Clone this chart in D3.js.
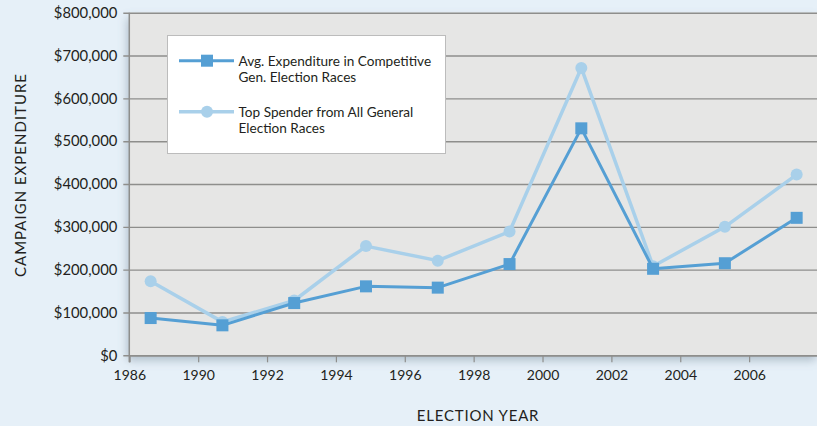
<!DOCTYPE html>
<html>
<head>
<meta charset="utf-8">
<script src="https://cdn.jsdelivr.net/npm/d3@7"></script>
<style>
  html, body { margin: 0; padding: 0; background: #e6f0f8; }
  svg { display: block; }
  text { font-family: Lato, "Open Sans", sans-serif; fill: #231f20; }
</style>
</head>
<body>
<svg id="chart" width="817" height="426"></svg>
<script>
// ---- data ----
const cycles = ["1988", "1990", "1992", "1994", "1996", "1998", "2000", "2002", "2004", "2006"];
const avgExpenditure = [87000, 70000, 122000, 161000, 158000, 213000, 530000, 202000, 215000, 321000];
const topSpender = [173000, 78000, 128000, 255000, 221000, 289000, 671000, 208000, 300000, 422000];
const xTickLabels = ["1986", "1990", "1992", "1994", "1996", "1998", "2000", "2002", "2004", "2006"];
const yTickValues = [0, 100000, 200000, 300000, 400000, 500000, 600000, 700000, 800000];
const seriesNames = ["Avg. Expenditure in Competitive|Gen. Election Races", "Top Spender from All General|Election Races"];

// ---- layout ----
const W = 817, H = 426;
const plot = { left: 129.3, right: 818, top: 12.7, bottom: 355.3 };
const darkBlue = "#559fd4", lightBlue = "#a9d0ea";

const svg = d3.select("#chart");
const defs = svg.append("defs");
const f = defs.append("filter").attr("id", "shadow").attr("x", "-10%").attr("y", "-10%").attr("width", "130%").attr("height", "130%");
f.append("feDropShadow").attr("dx", -2).attr("dy", 5).attr("stdDeviation", 5).attr("flood-color", "#6a7f90").attr("flood-opacity", 0.45);

const xAxisScale = d3.scaleLinear().domain([0, 10]).range([plot.left, plot.right]);
const xPoint = d3.scalePoint().domain(cycles).range([xAxisScale(0.31), xAxisScale(9.69)]);
const y = d3.scaleLinear().domain([0, 800000]).range([plot.bottom, plot.top]);

// plot background
svg.append("rect")
  .attr("x", plot.left).attr("y", plot.top)
  .attr("width", plot.right - plot.left).attr("height", plot.bottom - plot.top)
  .attr("fill", "#e6e6e5").attr("filter", "url(#shadow)");

// y axis with gridlines
const yAxis = d3.axisLeft(y).tickValues(yTickValues)
  .tickSize(-(plot.right - plot.left) - 6).tickPadding(6)
  .tickFormat(d => "$" + d3.format(",")(d));
const gy = svg.append("g").attr("transform", `translate(${plot.left},0)`).call(yAxis);
gy.select(".domain").remove();
gy.selectAll(".tick line").attr("x1", -6).attr("x2", plot.right - plot.left).attr("stroke", "#8e8e8c").attr("stroke-width", 1.4);
gy.selectAll(".tick text").attr("font-size", 14.8).attr("x", -12).style("font-family", "Lato, sans-serif");

// left axis line
svg.append("line").attr("x1", plot.left).attr("x2", plot.left).attr("y1", plot.top).attr("y2", plot.bottom + 7)
  .attr("stroke", "#8e8e8c").attr("stroke-width", 1.5);

// x axis
const xAxis = d3.axisBottom(xAxisScale).tickValues(d3.range(xTickLabels.length))
  .tickSize(7).tickPadding(8).tickFormat(i => xTickLabels[i]);
const gx = svg.append("g").attr("transform", `translate(0,${plot.bottom})`).call(xAxis);
gx.select(".domain").attr("stroke", "#8e8e8c").attr("stroke-width", 1.5);
gx.selectAll(".tick line").attr("stroke", "#8e8e8c").attr("stroke-width", 1.2);
gx.selectAll(".tick text").attr("font-size", 14).style("font-family", "Lato, sans-serif");

// axis titles
svg.append("text").attr("x", 478).attr("y", 421).attr("text-anchor", "middle")
  .attr("font-size", 15).attr("letter-spacing", 0.8).text("ELECTION YEAR");
svg.append("text").attr("transform", "translate(26,175) rotate(-90)").attr("text-anchor", "middle")
  .attr("font-size", 15).attr("letter-spacing", 1).text("CAMPAIGN EXPENDITURE");

// lines
const line = d3.line().x((d, i) => xPoint(cycles[i])).y(d => y(d));
svg.append("path").datum(topSpender).attr("d", line).attr("fill", "none")
  .attr("stroke", lightBlue).attr("stroke-width", 3.5).attr("stroke-linejoin", "round");
svg.selectAll("circle.top").data(topSpender).join("circle").attr("class", "top")
  .attr("cx", (d, i) => xPoint(cycles[i])).attr("cy", d => y(d)).attr("r", 6).attr("fill", lightBlue);

svg.append("path").datum(avgExpenditure).attr("d", line).attr("fill", "none")
  .attr("stroke", darkBlue).attr("stroke-width", 3).attr("stroke-linejoin", "round");
const sq = 12;
svg.selectAll("rect.avg").data(avgExpenditure).join("rect").attr("class", "avg")
  .attr("x", (d, i) => xPoint(cycles[i]) - sq / 2).attr("y", d => y(d) - sq / 2)
  .attr("width", sq).attr("height", sq).attr("fill", darkBlue);

// legend
const lg = svg.append("g");
lg.append("rect").attr("x", 167.5).attr("y", 35.5).attr("width", 278).attr("height", 118)
  .attr("fill", "#ffffff").attr("stroke", "#bcbcbc").attr("stroke-width", 1);
const legendItems = [
  { name: seriesNames[0], color: darkBlue, shape: "square", ly: 60.7, w: 3 },
  { name: seriesNames[1], color: lightBlue, shape: "circle", ly: 111.7, w: 3.5 }
];
legendItems.forEach(it => {
  lg.append("line").attr("x1", 179).attr("x2", 234).attr("y1", it.ly).attr("y2", it.ly)
    .attr("stroke", it.color).attr("stroke-width", it.w);
  if (it.shape === "square") {
    lg.append("rect").attr("x", 207 - sq / 2).attr("y", it.ly - sq / 2).attr("width", sq).attr("height", sq).attr("fill", it.color);
  } else {
    lg.append("circle").attr("cx", 207).attr("cy", it.ly).attr("r", 6).attr("fill", it.color);
  }
  const t = lg.append("text").attr("x", 238.5).attr("y", it.ly + 4.8).attr("font-size", 13.6);
  it.name.split("|").forEach((s, k) => {
    t.append("tspan").attr("x", 238.5).attr("dy", k === 0 ? 0 : 16.7).text(s);
  });
});
</script>
</body>
</html>
